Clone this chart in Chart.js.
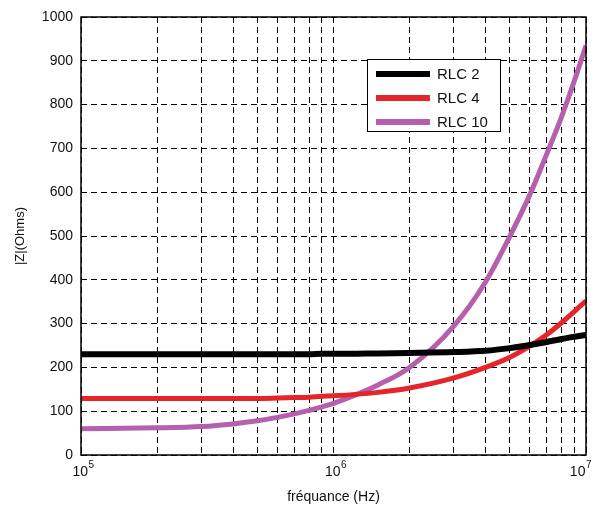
<!DOCTYPE html>
<html>
<head>
<meta charset="utf-8">
<script src="https://cdn.jsdelivr.net/npm/chart.js@4"></script>
<style>
  html, body { margin: 0; padding: 0; background: #fff; }
  #wrap { width: 609px; height: 515px; }
</style>
</head>
<body>
<div id="wrap"><canvas id="chart" width="609" height="515"></canvas></div>
<script>
const freq = [1e5, 2e5, 3e5, 4e5, 5e5, 6e5, 7e5, 8e5, 9e5, 1e6, 1.5e6, 2e6, 3e6, 4e6, 5e6, 6e6, 7e6, 8e6, 9e6, 1e7];
const rlc2 = [230, 230, 230, 230, 230, 230, 230, 230, 231, 231, 232, 233, 235, 238, 244, 251, 258, 265, 270, 274];
const rlc4 = [129, 129, 129, 129, 129, 130, 131, 132, 134, 135, 143, 153, 176, 200, 223, 249, 275, 302, 328, 352];
const rlc10 = [60, 62, 65, 71, 78, 86, 94, 102, 110, 118, 160, 200, 295, 395, 500, 595, 688, 772, 855, 935];
const seriesNames = ['RLC 2', 'RLC 4', 'RLC 10'];
const xGridTicks = [1e5, 2e5, 3e5, 4e5, 5e5, 6e5, 7e5, 8e5, 9e5,
                    1e6, 2e6, 3e6, 4e6, 5e6, 6e6, 7e6, 8e6, 9e6, 1e7];
const xLabelTicks = [[1e5, '5'], [1e6, '6'], [1e7, '7']];

const FONT = '"Liberation Sans", Arial, sans-serif';
const TXT = '#111';

function pts(ys) {
  return freq.map((f, i) => ({ x: f, y: ys[i] }));
}

// box round the plot, superscript x labels, legend inside the plot
const extras = {
  id: 'extras',
  afterDraw(chart) {
    const { ctx, chartArea: a } = chart;
    const xs = chart.scales.x;
    ctx.save();
    ctx.strokeStyle = '#000';
    ctx.lineWidth = 1.5;
    ctx.setLineDash([]);
    ctx.strokeRect(a.left, a.top, a.right - a.left, a.bottom - a.top);

    // x tick labels 10^n
    ctx.fillStyle = TXT;
    ctx.textBaseline = 'alphabetic';
    xLabelTicks.forEach(([v, e], i) => {
      const px = xs.getPixelForValue(v);
      ctx.font = '14px ' + FONT;
      const w1 = ctx.measureText('10').width;
      ctx.font = '10px ' + FONT;
      const w2 = ctx.measureText(e).width;
      let x0 = px - (w1 + w2) / 2 + 2;
      if (i === xLabelTicks.length - 1) x0 = Math.min(x0, a.right + 5 - w1 - w2);
      ctx.font = '14px ' + FONT;
      ctx.textAlign = 'left';
      ctx.fillText('10', x0, 476);
      ctx.font = '10px ' + FONT;
      ctx.fillText(e, x0 + w1 + 0.5, 468);
    });

    // legend
    const lx = 367, ly = 59, lw = 133, lh = 72;
    ctx.fillStyle = '#fff';
    ctx.fillRect(lx, ly, lw, lh);
    ctx.lineWidth = 1;
    ctx.strokeStyle = '#000';
    ctx.strokeRect(lx + 0.5, ly + 0.5, lw, lh);
    chart.data.datasets.forEach((ds, i) => {
      const y = ly + 15 + i * 24;
      ctx.strokeStyle = ds.borderColor;
      ctx.lineWidth = 6;
      ctx.beginPath();
      ctx.moveTo(376, y);
      ctx.lineTo(430, y);
      ctx.stroke();
      ctx.fillStyle = TXT;
      ctx.font = '15px ' + FONT;
      ctx.textAlign = 'left';
      ctx.textBaseline = 'middle';
      ctx.fillText(ds.label, 437, y + 1);
    });
    ctx.restore();
  }
};

new Chart(document.getElementById('chart'), {
  type: 'line',
  data: {
    datasets: [
      { label: seriesNames[0], data: pts(rlc2), borderColor: '#000000', borderWidth: 6 },
      { label: seriesNames[1], data: pts(rlc4), borderColor: '#e4262b', borderWidth: 5 },
      { label: seriesNames[2], data: pts(rlc10), borderColor: '#b55fad', borderWidth: 5 }
    ].map(d => Object.assign(d, { pointRadius: 0, fill: false, cubicInterpolationMode: 'monotone' }))
  },
  options: {
    responsive: false,
    animation: false,
    layout: { padding: { top: 17, right: 23, left: 0, bottom: 0 } },
    plugins: { legend: { display: false }, tooltip: { enabled: false } },
    scales: {
      x: {
        type: 'logarithmic',
        min: 1e5,
        max: 1e7,
        afterBuildTicks(s) { s.ticks = xGridTicks.map(v => ({ value: v })); },
        afterFit(s) { s.height = 60; },
        ticks: { display: false },
        grid: { color: '#000', lineWidth: 1, drawTicks: false },
        border: { display: false, dash: [6, 4] },
        title: {
          display: true,
          text: 'fréquance (Hz)',
          color: TXT,
          font: { family: FONT, size: 14 },
          padding: { top: 4, bottom: 9 }
        }
      },
      y: {
        min: 0,
        max: 1000,
        afterFit(s) { s.width = 81; },
        ticks: {
          stepSize: 100, padding: 8, color: TXT,
          font: { family: FONT, size: 14 },
          callback: v => String(v)
        },
        grid: { color: '#000', lineWidth: 1, drawTicks: false },
        border: { display: false, dash: [6, 4] },
        title: {
          display: true,
          text: '|Z|(Ohms)',
          color: TXT,
          font: { family: FONT, size: 13 },
          padding: { top: 13, bottom: 0 }
        }
      }
    }
  },
  plugins: [extras]
});
</script>
</body>
</html>
